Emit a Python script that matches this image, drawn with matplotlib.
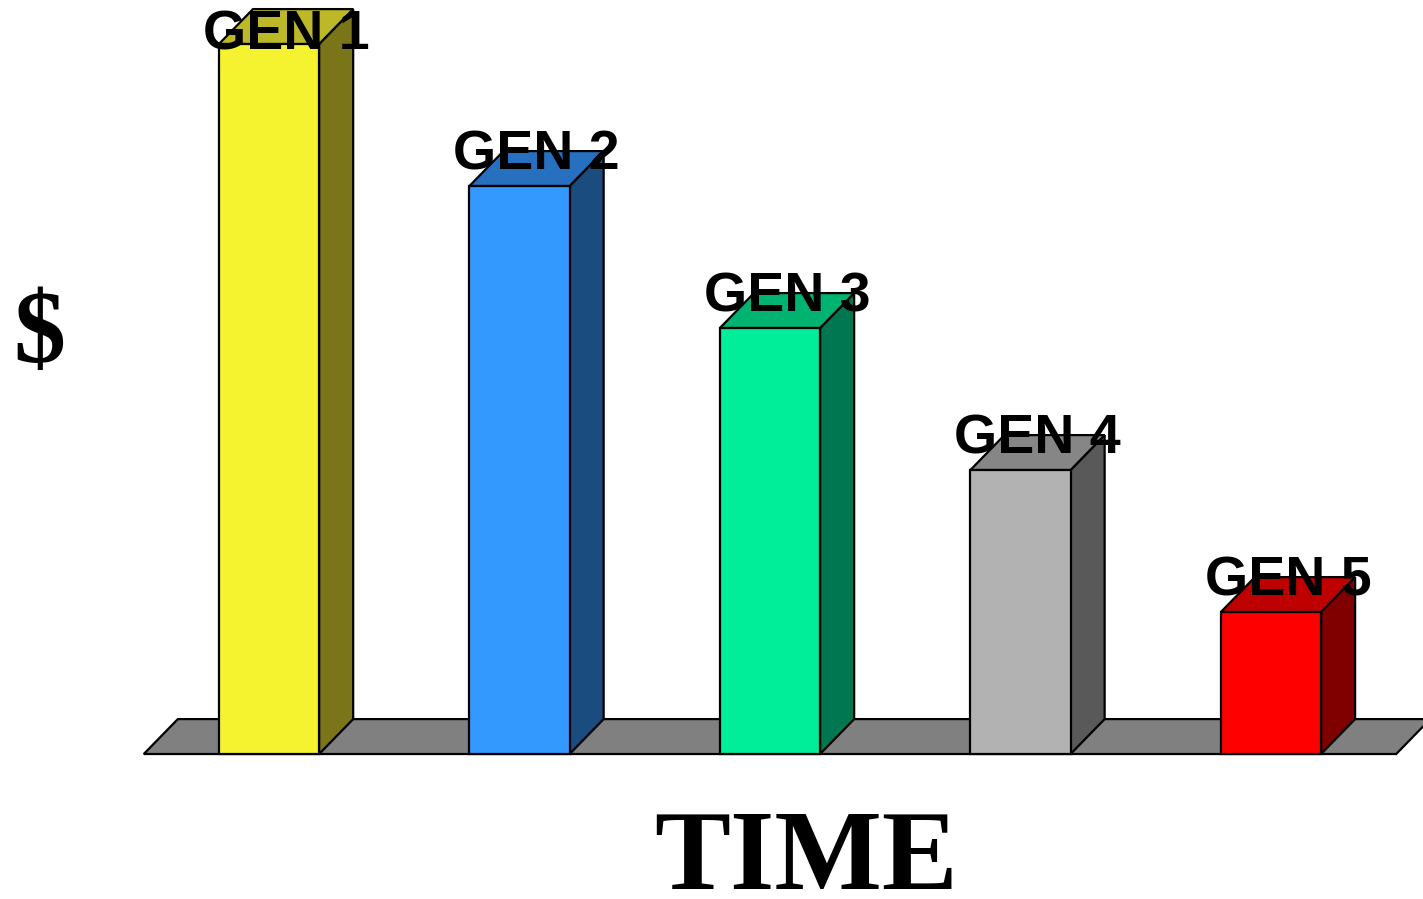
import matplotlib.pyplot as plt
from matplotlib.patches import Polygon

# data
labels = ['GEN 1', 'GEN 2', 'GEN 3', 'GEN 4', 'GEN 5']
values = [5, 4, 3, 2, 1]
front_colors = ['#F5F230', '#3399FF', '#00EE99', '#B2B2B2', '#FF0000']
side_colors = ['#7A7518', '#1A4C80', '#007750', '#595959', '#800000']
top_colors = ['#BDB828', '#2670BF', '#00B370', '#868686', '#BF0000']

bar_w = 0.4
dx, dy = 0.136, 0.246   # depth offset

fig = plt.figure(figsize=(14.23, 8.99), dpi=100)
ax = fig.add_axes([0, 0, 1, 1])
ax.set_xlim(-1.074, 4.607)
ax.set_ylim(-1.021, 5.31)
ax.axis('off')

# floor
x0, x1 = -0.5, len(values) - 0.5
floor = Polygon([(x0, 0), (x1, 0), (x1 + dx, dy), (x0 + dx, dy)],
                closed=True, facecolor='#808080', edgecolor='black', lw=1.6, zorder=1)
ax.add_patch(floor)

for i, v in enumerate(values):
    l, r = i - bar_w / 2, i + bar_w / 2
    side = Polygon([(r, 0), (r + dx, dy), (r + dx, v + dy), (r, v)],
                   facecolor=side_colors[i], edgecolor='black', lw=1.6, zorder=2)
    top = Polygon([(l, v), (r, v), (r + dx, v + dy), (l + dx, v + dy)],
                  facecolor=top_colors[i], edgecolor='black', lw=1.6, zorder=2)
    front = Polygon([(l, 0), (r, 0), (r, v), (l, v)],
                    facecolor=front_colors[i], edgecolor='black', lw=1.6, zorder=3)
    for p in (side, top, front):
        ax.add_patch(p)
    ty = min(v + dy - 0.03, 5.31 - 0.25)
    ax.text(i + dx / 2, ty, labels[i], ha='center', va='center',
            fontsize=40, fontweight='bold', family='Liberation Sans', zorder=5)

ax.text(-0.915, 2.94, '$', ha='center', va='center', fontsize=75,
        fontweight='bold', family='Liberation Serif')
ax.text(2.145, -0.75, 'TIME', ha='center', va='center', fontsize=82,
        fontweight='bold', family='Liberation Serif')

fig.savefig('out.png', dpi=100)
